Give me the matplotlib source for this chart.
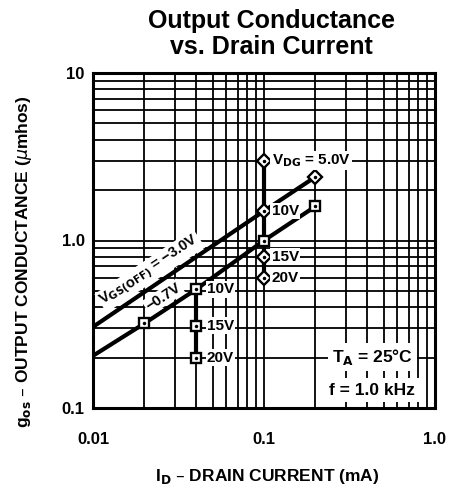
import matplotlib
matplotlib.use("Agg")
import matplotlib.pyplot as plt
from matplotlib.ticker import FixedLocator, NullLocator

FONT = ['Liberation Sans Narrow', 'Liberation Sans', 'DejaVu Sans']

# VGS(OFF) = -3.0V line
id_a = [0.01, 0.1, 0.2]
gos_a = [0.305, 1.5, 2.4]
# VGS(OFF) = -0.7V line
id_b = [0.01, 0.02, 0.04, 0.1, 0.2]
gos_b = [0.205, 0.32, 0.51, 1.0, 1.6]

# VDG sweep at ID = 0.1 mA (diamonds) and ID = 0.04 mA (squares)
vdg_a_x = [0.1, 0.1, 0.1, 0.1]
vdg_a_y = [3.0, 1.5, 0.8, 0.6]
vdg_a_lbl = ['V$_{\\mathbf{DG}}$ = 5.0V', '10V', '15V', '20V']
vdg_b_x = [0.04, 0.04, 0.04]
vdg_b_y = [0.51, 0.31, 0.2]
vdg_b_lbl = ['10V', '15V', '20V']

sq_x = [0.02, 0.04, 0.1, 0.2]
sq_y = [0.32, 0.51, 1.0, 1.6]

fig = plt.figure(figsize=(4.51, 4.91), dpi=100)
ax = fig.add_axes([93/451, 1-408/491, 342/451, 335/491])
ax.set_xscale('log')
ax.set_yscale('log')
ax.set_xlim(0.01, 1.0)
ax.set_ylim(0.1, 10)

# grid
for v in [0.01*m*10**k for k in range(2) for m in range(1, 10)]:
    ax.axvline(v, color='black', lw=1.3, zorder=1)
for v in [0.1*m*10**k for k in range(2) for m in range(1, 10)]:
    ax.axhline(v, color='black', lw=1.3, zorder=1)

for s in ax.spines.values():
    s.set_linewidth(2.2)

ax.xaxis.set_major_locator(FixedLocator([0.01, 0.1, 1.0]))
ax.yaxis.set_major_locator(FixedLocator([0.1, 1.0, 10]))
ax.xaxis.set_minor_locator(NullLocator())
ax.yaxis.set_minor_locator(NullLocator())
ax.set_xticklabels(['0.01', '0.1', '1.0'])
ax.set_yticklabels(['0.1', '1.0', '10'])
ax.tick_params(length=0)
ax.tick_params(axis='x', pad=17)
ax.tick_params(axis='y', pad=6)
for t in ax.get_xticklabels() + ax.get_yticklabels():
    t.set_family(FONT)
    t.set_fontweight('bold')
    t.set_fontsize(12)

# curves
ax.plot(id_a, gos_a, color='black', lw=3, zorder=3, solid_capstyle='butt')
ax.plot(id_b, gos_b, color='black', lw=3, zorder=3, solid_capstyle='butt')
ax.plot(vdg_a_x, vdg_a_y, color='black', lw=3, zorder=3)
ax.plot(vdg_b_x, vdg_b_y, color='black', lw=3, zorder=3)

# markers
dx = vdg_a_x + [id_a[-1]]
dy = vdg_a_y + [gos_a[-1]]
ax.plot(dx, dy, 'D', ms=7, mfc='white', mec='black', mew=1.7, zorder=4)
ax.plot(dx, dy, 'o', ms=1.5, color='black', zorder=5)
qx = sq_x + vdg_b_x[1:]
qy = sq_y + vdg_b_y[1:]
ax.plot(qx, qy, 's', ms=7.5, mfc='white', mec='black', mew=1.7, zorder=4)
ax.plot(qx, qy, 'o', ms=1.5, color='black', zorder=5)

box = dict(facecolor='white', edgecolor='none', pad=1.0)
for x, y, s in zip(vdg_a_x, vdg_a_y, vdg_a_lbl):
    ax.text(x*1.11, y, s, ha='left', va='center', fontsize=11, family=FONT,
            fontweight='bold', bbox=box, zorder=6)
for x, y, s in zip(vdg_b_x, vdg_b_y, vdg_b_lbl):
    ax.text(x*1.16, y, s, ha='left', va='center', fontsize=11, family=FONT,
            fontweight='bold', bbox=box, zorder=6)

ax.text(0.0215, 0.66, 'V$_{\\mathbf{GS(OFF)}}$ = \u22123.0V', rotation=33.5,
        ha='center', va='center', fontsize=10.5, family=FONT, fontweight='bold',
        bbox=box, zorder=6)
ax.text(0.0258, 0.46, '\u22120.7V', rotation=33.5, ha='center', va='center',
        fontsize=10.5, family=FONT, fontweight='bold', bbox=box, zorder=6)

tbox = dict(facecolor='white', edgecolor='none', pad=3)
ax.text(0.43, 0.201, 'T$_{\\mathbf{A}}$ = 25\u00b0C', ha='center', va='center',
        fontsize=12.5, family=FONT, fontweight='bold', bbox=tbox, zorder=6)
ax.text(0.43, 0.128, 'f = 1.0 kHz', ha='center', va='center',
        fontsize=12.5, family=FONT, fontweight='bold', bbox=tbox, zorder=6)

fig.text(271/451, 1-34/491, 'Output Conductance\nvs. Drain Current', ha='center',
         va='center', fontsize=18, fontweight='bold', linespacing=1.1,
         family=['Liberation Sans', 'DejaVu Sans'])
fig.text(267/451, 1-476/491, 'I$_{\\mathbf{D}}$ \u2013 DRAIN CURRENT (mA)', ha='center',
         va='center', fontsize=12.5, fontweight='bold', family=FONT)
fig.text(24/451, 1-262/491, 'g$_{\\mathbf{os}}$ \u2013 OUTPUT CONDUCTANCE ($\\mathit{\\mu}$mhos)',
         ha='center', va='center', rotation=90, fontsize=12.5, fontweight='bold',
         family=FONT)

fig.savefig('out.png', dpi=100)
